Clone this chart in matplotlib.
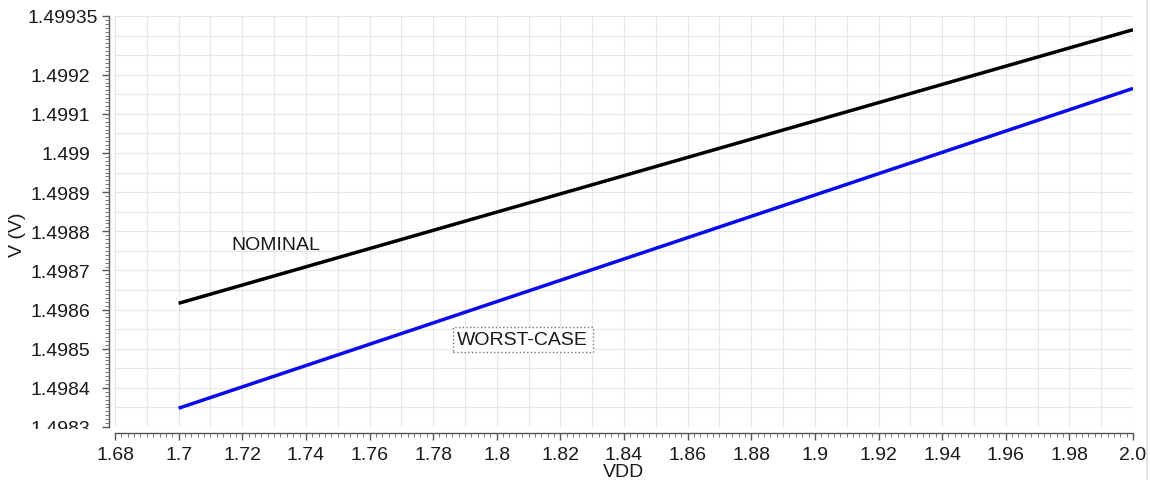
import numpy as np
import matplotlib
matplotlib.use("Agg")
import matplotlib.pyplot as plt
from matplotlib.ticker import FixedLocator, MultipleLocator
from matplotlib.transforms import Bbox, ScaledTranslation
from matplotlib.lines import Line2D

plt.rcParams['font.family'] = ['Liberation Sans', 'DejaVu Sans']

# ---- data ----
vdd = [1.7, 2.0]
nominal = [1.498616, 1.499315]
worst_case = [1.498348, 1.499165]

x_ticks = [1.68, 1.70, 1.72, 1.74, 1.76, 1.78, 1.80, 1.82, 1.84, 1.86,
           1.88, 1.90, 1.92, 1.94, 1.96, 1.98, 2.00]
x_labels = ["1.68", "1.7", "1.72", "1.74", "1.76", "1.78", "1.8", "1.82", "1.84",
            "1.86", "1.88", "1.9", "1.92", "1.94", "1.96", "1.98", "2.0"]
y_ticks = [1.4983, 1.4984, 1.4985, 1.4986, 1.4987, 1.4988, 1.4989, 1.4990,
           1.4991, 1.4992, 1.49935]
y_labels = ["1.4983", "1.4984", "1.4985", "1.4986", "1.4987", "1.4988", "1.4989",
            "1.499", "1.4991", "1.4992", "1.49935"]

xlim = (1.68, 2.0)
ylim = (1.4983, 1.49935)

FS = 14

fig = plt.figure(figsize=(11.5, 4.81), dpi=100)
ax = fig.add_axes([115/1150, 53/481, 1018/1150, 411/481])

# grid
for gx in np.arange(1.68, 2.0001, 0.01):
    ax.axvline(gx, color='#e6e6e6', lw=0.8, zorder=0)
for gy in np.arange(1.4983, 1.49936, 0.00005):
    ax.axhline(gy, color='#e6e6e6', lw=0.8, zorder=0)

ax.plot(vdd, nominal, color='black', lw=2.5, solid_capstyle='butt', zorder=3)
ax.plot(vdd, worst_case, color='#0a0af0', lw=2.5, solid_capstyle='butt', zorder=3)

ax.set_xlim(*xlim)
ax.set_ylim(*ylim)

ax.xaxis.set_major_locator(FixedLocator(x_ticks))
ax.set_xticklabels(x_labels)
ax.xaxis.set_minor_locator(MultipleLocator(0.002))
ax.yaxis.set_major_locator(FixedLocator(y_ticks))
ax.set_yticklabels(y_labels)
ax.yaxis.set_minor_locator(MultipleLocator(0.00001))

for s in ['top', 'right']:
    ax.spines[s].set_visible(False)
ax.spines['left'].set_position(('outward', 4))
ax.spines['bottom'].set_position(('outward', 4))
for s in ['left', 'bottom']:
    ax.spines[s].set_color('#555555')
    ax.spines[s].set_linewidth(1.0)

ax.tick_params(axis='both', which='major', direction='out', length=5, width=1.0,
               color='#555555', labelsize=FS, labelcolor='#1a1a1a')
ax.tick_params(axis='both', which='minor', direction='out', length=3, width=0.7,
               color='#777777')
ax.tick_params(axis='x', which='major', pad=5)
ax.tick_params(axis='y', which='major', pad=9)

ax.set_xlabel("VDD", fontsize=FS, color='#1a1a1a')
ax.xaxis.set_label_coords(0.5, -0.087)
ax.set_ylabel("V (V)", fontsize=FS, color='#1a1a1a')
ax.yaxis.set_label_coords(-0.087, 0.47)

ax.text(1.7306, 1.498766, "NOMINAL", fontsize=FS, color='#1a1a1a',
        ha='center', va='center', zorder=4)
ax.text(1.8082, 1.498524, "WORST-CASE", fontsize=FS, color='#1a1a1a',
        ha='center', va='center', zorder=4,
        bbox=dict(boxstyle='square,pad=0.22', facecolor='white',
                  edgecolor='#777777', linestyle=':', linewidth=1.0))

# right border line of the frame
fig.add_artist(Line2D([1147/1150, 1147/1150], [0, 1], transform=fig.transFigure,
                      color='#dddddd', lw=1.2))

fig.canvas.draw()
for lbl in ax.get_yticklabels():
    if lbl.get_text() == "1.4983":
        lbl.set_clip_on(True)
        lbl.set_clip_box(Bbox.from_extents(0, 51, 1150, 481))
    if lbl.get_text() == "1.49935":
        lbl.set_transform(lbl.get_transform() +
                          ScaledTranslation(8/100, 0, fig.dpi_scale_trans))

fig.savefig("out.png", dpi=100)
